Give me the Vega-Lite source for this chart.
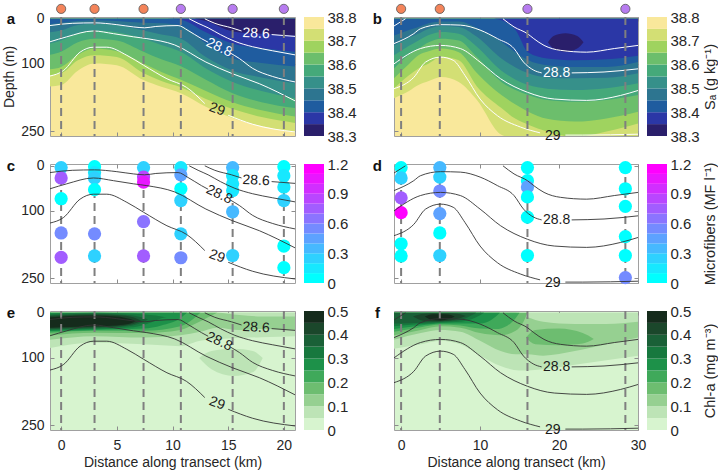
{
"$schema":"https://vega.github.io/schema/vega-lite/v6.json",
"background":"white",
"padding":{"left":2,"top":2,"right":0,"bottom":0},
"config":{"font":"Liberation Sans","view":{"stroke":"#a0a0a0"},
 "axis":{"labelFont":"Liberation Sans","titleFont":"Liberation Sans","labelColor":"#262626","titleColor":"#262626","tickColor":"#8c8c8c","titleFontWeight":"normal","labelFontSize":14,"titleFontSize":14,"grid":false,"domain":false,"labelFlush":false,"labelOverlap":false},
 "text":{"font":"Liberation Sans"}},
"datasets":{
"one":[{}],
"stn1":[{"x":0,"cluster":"A"},{"x":3,"cluster":"A"},{"x":7.4,"cluster":"A"},{"x":10.75,"cluster":"B"},{"x":15.4,"cluster":"B"},{"x":20,"cluster":"B"}],
"stn2":[{"x":0,"cluster":"A"},{"x":4.9,"cluster":"A"},{"x":16,"cluster":"B"},{"x":28.4,"cluster":"B"}],
"salt1":[
{"band":"38.70","x":-1,"depth":150},{"band":"38.70","x":0,"depth":147},{"band":"38.70","x":1.5,"depth":115},{"band":"38.70","x":3,"depth":99},{"band":"38.70","x":5,"depth":103},{"band":"38.70","x":7.4,"depth":136},{"band":"38.70","x":9,"depth":151},{"band":"38.70","x":10.75,"depth":165},{"band":"38.70","x":13,"depth":195},{"band":"38.70","x":15.4,"depth":220},{"band":"38.70","x":18,"depth":238},{"band":"38.70","x":21,"depth":252},
{"band":"38.65","x":-1,"depth":125},{"band":"38.65","x":0,"depth":121},{"band":"38.65","x":1.5,"depth":92},{"band":"38.65","x":3,"depth":81},{"band":"38.65","x":5,"depth":85},{"band":"38.65","x":7.4,"depth":121},{"band":"38.65","x":9,"depth":138},{"band":"38.65","x":10.75,"depth":152},{"band":"38.65","x":13,"depth":178},{"band":"38.65","x":15.4,"depth":200},{"band":"38.65","x":18,"depth":218},{"band":"38.65","x":21,"depth":231},
{"band":"38.60","x":-1,"depth":112},{"band":"38.60","x":0,"depth":107},{"band":"38.60","x":1.5,"depth":80},{"band":"38.60","x":3,"depth":66},{"band":"38.60","x":5,"depth":72},{"band":"38.60","x":7.4,"depth":99},{"band":"38.60","x":9,"depth":118},{"band":"38.60","x":10.75,"depth":135},{"band":"38.60","x":13,"depth":160},{"band":"38.60","x":15.4,"depth":185},{"band":"38.60","x":18,"depth":203},{"band":"38.60","x":21,"depth":217},
{"band":"38.55","x":-1,"depth":80},{"band":"38.55","x":0,"depth":73},{"band":"38.55","x":1.5,"depth":52},{"band":"38.55","x":3,"depth":44},{"band":"38.55","x":5,"depth":48},{"band":"38.55","x":7.4,"depth":73},{"band":"38.55","x":9,"depth":90},{"band":"38.55","x":10.75,"depth":105},{"band":"38.55","x":13,"depth":135},{"band":"38.55","x":15.4,"depth":165},{"band":"38.55","x":18,"depth":185},{"band":"38.55","x":21,"depth":198},
{"band":"38.50","x":-1,"depth":55},{"band":"38.50","x":0,"depth":48},{"band":"38.50","x":1.5,"depth":32},{"band":"38.50","x":3,"depth":26},{"band":"38.50","x":5,"depth":30},{"band":"38.50","x":7.4,"depth":44},{"band":"38.50","x":9,"depth":58},{"band":"38.50","x":10.75,"depth":73},{"band":"38.50","x":13,"depth":110},{"band":"38.50","x":15.4,"depth":140},{"band":"38.50","x":18,"depth":160},{"band":"38.50","x":21,"depth":176},
{"band":"38.45","x":-1,"depth":30},{"band":"38.45","x":0,"depth":26},{"band":"38.45","x":1.5,"depth":14},{"band":"38.45","x":3,"depth":11},{"band":"38.45","x":5,"depth":14},{"band":"38.45","x":7.4,"depth":26},{"band":"38.45","x":9,"depth":35},{"band":"38.45","x":10.75,"depth":44},{"band":"38.45","x":13,"depth":85},{"band":"38.45","x":15.4,"depth":115},{"band":"38.45","x":18,"depth":130},{"band":"38.45","x":21,"depth":143},
{"band":"38.40","x":-1,"depth":12},{"band":"38.40","x":0,"depth":9},{"band":"38.40","x":1.5,"depth":5},{"band":"38.40","x":3,"depth":4},{"band":"38.40","x":5,"depth":5},{"band":"38.40","x":7.4,"depth":9},{"band":"38.40","x":9,"depth":10},{"band":"38.40","x":10.75,"depth":15},{"band":"38.40","x":13,"depth":55},{"band":"38.40","x":15.4,"depth":88},{"band":"38.40","x":18,"depth":98},{"band":"38.40","x":21,"depth":106},
{"band":"38.35","x":9.5,"depth":0},{"band":"38.35","x":10.75,"depth":2},{"band":"38.35","x":13,"depth":30},{"band":"38.35","x":15.4,"depth":55},{"band":"38.35","x":18,"depth":65},{"band":"38.35","x":21,"depth":73},
{"band":"38.30","x":12,"depth":0},{"band":"38.30","x":13,"depth":5},{"band":"38.30","x":15.4,"depth":28},{"band":"38.30","x":18,"depth":33},{"band":"38.30","x":21,"depth":37}],
"salt2":[
{"band":"38.70","x":-0.9,"depth":176},{"band":"38.70","x":1,"depth":160},{"band":"38.70","x":2.2,"depth":147},{"band":"38.70","x":3.5,"depth":138},{"band":"38.70","x":5.1,"depth":129},{"band":"38.70","x":7.3,"depth":140},{"band":"38.70","x":9.6,"depth":180},{"band":"38.70","x":12.7,"depth":257},{"band":"38.70","x":14.5,"depth":265},{"band":"38.70","x":16.1,"depth":265},{"band":"38.70","x":18.5,"depth":265},{"band":"38.70","x":22,"depth":265},{"band":"38.70","x":26,"depth":265},{"band":"38.70","x":30,"depth":265},
{"band":"38.65","x":-0.9,"depth":154},{"band":"38.65","x":1,"depth":125},{"band":"38.65","x":2.2,"depth":110},{"band":"38.65","x":3.5,"depth":99},{"band":"38.65","x":5.1,"depth":84},{"band":"38.65","x":7.3,"depth":92},{"band":"38.65","x":9.6,"depth":150},{"band":"38.65","x":12.7,"depth":198},{"band":"38.65","x":14.5,"depth":222},{"band":"38.65","x":16.1,"depth":235},{"band":"38.65","x":18.5,"depth":250},{"band":"38.65","x":22,"depth":262},{"band":"38.65","x":26,"depth":250},{"band":"38.65","x":30,"depth":232},
{"band":"38.60","x":-0.9,"depth":132},{"band":"38.60","x":1,"depth":100},{"band":"38.60","x":2.2,"depth":81},{"band":"38.60","x":3.5,"depth":72},{"band":"38.60","x":5.1,"depth":66},{"band":"38.60","x":7.3,"depth":74},{"band":"38.60","x":9.6,"depth":120},{"band":"38.60","x":12.7,"depth":169},{"band":"38.60","x":14.5,"depth":190},{"band":"38.60","x":16.1,"depth":206},{"band":"38.60","x":18.5,"depth":222},{"band":"38.60","x":22,"depth":228},{"band":"38.60","x":26,"depth":221},{"band":"38.60","x":30,"depth":206},
{"band":"38.55","x":-0.9,"depth":110},{"band":"38.55","x":1,"depth":80},{"band":"38.55","x":2.2,"depth":66},{"band":"38.55","x":3.5,"depth":52},{"band":"38.55","x":5.1,"depth":44},{"band":"38.55","x":7.3,"depth":48},{"band":"38.55","x":9.6,"depth":85},{"band":"38.55","x":12.7,"depth":140},{"band":"38.55","x":14.5,"depth":158},{"band":"38.55","x":16.1,"depth":169},{"band":"38.55","x":18.5,"depth":180},{"band":"38.55","x":22,"depth":184},{"band":"38.55","x":26,"depth":180},{"band":"38.55","x":30,"depth":169},
{"band":"38.50","x":-0.9,"depth":81},{"band":"38.50","x":1,"depth":60},{"band":"38.50","x":2.2,"depth":48},{"band":"38.50","x":3.5,"depth":36},{"band":"38.50","x":5.1,"depth":29},{"band":"38.50","x":7.3,"depth":33},{"band":"38.50","x":9.6,"depth":62},{"band":"38.50","x":12.7,"depth":115},{"band":"38.50","x":14.5,"depth":135},{"band":"38.50","x":16.1,"depth":147},{"band":"38.50","x":18.5,"depth":155},{"band":"38.50","x":22,"depth":158},{"band":"38.50","x":26,"depth":154},{"band":"38.50","x":30,"depth":143},
{"band":"38.45","x":-0.9,"depth":59},{"band":"38.45","x":1,"depth":42},{"band":"38.45","x":2.2,"depth":33},{"band":"38.45","x":3.5,"depth":22},{"band":"38.45","x":5.1,"depth":16},{"band":"38.45","x":7.3,"depth":18},{"band":"38.45","x":9.6,"depth":40},{"band":"38.45","x":12.7,"depth":88},{"band":"38.45","x":14.5,"depth":108},{"band":"38.45","x":16.1,"depth":121},{"band":"38.45","x":18.5,"depth":130},{"band":"38.45","x":22,"depth":132},{"band":"38.45","x":26,"depth":131},{"band":"38.45","x":30,"depth":121},
{"band":"38.40","x":-0.9,"depth":37},{"band":"38.40","x":1,"depth":25},{"band":"38.40","x":2.2,"depth":18},{"band":"38.40","x":3.5,"depth":10},{"band":"38.40","x":5.1,"depth":6},{"band":"38.40","x":7.3,"depth":6},{"band":"38.40","x":9.6,"depth":20},{"band":"38.40","x":12.7,"depth":51},{"band":"38.40","x":14.5,"depth":75},{"band":"38.40","x":16.1,"depth":92},{"band":"38.40","x":18.5,"depth":103},{"band":"38.40","x":22,"depth":107},{"band":"38.40","x":26,"depth":107},{"band":"38.40","x":30,"depth":96},
{"band":"38.35","x":11.8,"depth":0},{"band":"38.35","x":12.7,"depth":3},{"band":"38.35","x":14.5,"depth":25},{"band":"38.35","x":16.1,"depth":75},{"band":"38.35","x":18.5,"depth":88},{"band":"38.35","x":22,"depth":92},{"band":"38.35","x":26,"depth":90},{"band":"38.35","x":30,"depth":82}],
"blob2":[{"band":"38.30","x":18.6,"top":52,"depth":52},{"band":"38.30","x":19.3,"top":38,"depth":66},{"band":"38.30","x":20.8,"top":32,"depth":73},{"band":"38.30","x":22.3,"top":38,"depth":66},{"band":"38.30","x":23.1,"top":52,"depth":52}],
"iso1":[
{"line":"28.6a","x":12.9,"depth":0},{"line":"28.6a","x":13.8,"depth":10},{"line":"28.6a","x":15.3,"depth":20},{"line":"28.6a","x":16.2,"depth":27},
{"line":"28.6b","x":18.9,"depth":35},{"line":"28.6b","x":21,"depth":39},
{"line":"28.7","x":11.5,"depth":0},{"line":"28.7","x":12.3,"depth":10},{"line":"28.7","x":13.2,"depth":20},{"line":"28.7","x":14.3,"depth":35},{"line":"28.7","x":15.6,"depth":50},{"line":"28.7","x":17.2,"depth":62},{"line":"28.7","x":19,"depth":71},{"line":"28.7","x":21,"depth":80},
{"line":"28.8a","x":-1,"depth":15},{"line":"28.8a","x":1,"depth":10},{"line":"28.8a","x":3,"depth":9},{"line":"28.8a","x":5,"depth":13},{"line":"28.8a","x":6.5,"depth":18},{"line":"28.8a","x":7.5,"depth":20},{"line":"28.8a","x":8.5,"depth":17},{"line":"28.8a","x":10.5,"depth":15},{"line":"28.8a","x":11.4,"depth":26},{"line":"28.8a","x":12.6,"depth":44},{"line":"28.8a","x":13.2,"depth":52},
{"line":"28.8b","x":15.2,"depth":76},{"line":"28.8b","x":16,"depth":88},{"line":"28.8b","x":17.2,"depth":110},{"line":"28.8b","x":19,"depth":128},{"line":"28.8b","x":21,"depth":140},
{"line":"28.9","x":-1,"depth":51},{"line":"28.9","x":0.5,"depth":40},{"line":"28.9","x":2.9,"depth":27},{"line":"28.9","x":4.7,"depth":33},{"line":"28.9","x":6.5,"depth":40},{"line":"28.9","x":7.7,"depth":44},{"line":"28.9","x":10.2,"depth":58},{"line":"28.9","x":13,"depth":96},{"line":"28.9","x":15.4,"depth":122},{"line":"28.9","x":17.8,"depth":144},{"line":"28.9","x":21,"depth":182},
{"line":"29a","x":-1,"depth":127},{"line":"29a","x":0.2,"depth":115},{"line":"29a","x":1.7,"depth":74},{"line":"29a","x":2.9,"depth":63},{"line":"29a","x":4.1,"depth":63},{"line":"29a","x":5.9,"depth":81},{"line":"29a","x":7.4,"depth":103},{"line":"29a","x":9.5,"depth":133},{"line":"29a","x":11.25,"depth":152},{"line":"29a","x":12.9,"depth":188},
{"line":"29b","x":15,"depth":214},{"line":"29b","x":17.2,"depth":234},{"line":"29b","x":21,"depth":251}],
"iso2":[
{"line":"28.7a","x":-0.9,"depth":16},{"line":"28.7a","x":0.55,"depth":0},
{"line":"28.7b","x":12.9,"depth":0},{"line":"28.7b","x":14.3,"depth":18},{"line":"28.7b","x":16,"depth":33},{"line":"28.7b","x":16.8,"depth":44},{"line":"28.7b","x":18.1,"depth":59},{"line":"28.7b","x":20.2,"depth":70},{"line":"28.7b","x":23.5,"depth":74},{"line":"28.7b","x":27,"depth":66},{"line":"28.7b","x":30,"depth":59},
{"line":"28.8a","x":-0.9,"depth":55},{"line":"28.8a","x":1.6,"depth":33},{"line":"28.8a","x":2.45,"depth":22},{"line":"28.8a","x":5,"depth":13},{"line":"28.8a","x":7.5,"depth":14},{"line":"28.8a","x":10,"depth":25},{"line":"28.8a","x":12.2,"depth":44},{"line":"28.8a","x":14.3,"depth":66},{"line":"28.8a","x":15.5,"depth":96},{"line":"28.8a","x":16.8,"depth":114},{"line":"28.8a","x":17.8,"depth":120},
{"line":"28.8b","x":21.6,"depth":120},{"line":"28.8b","x":25.7,"depth":118},{"line":"28.8b","x":30,"depth":111},
{"line":"28.9","x":-0.9,"depth":100},{"line":"28.9","x":2.45,"depth":66},{"line":"28.9","x":5,"depth":59},{"line":"28.9","x":7.5,"depth":66},{"line":"28.9","x":10,"depth":96},{"line":"28.9","x":12.6,"depth":133},{"line":"28.9","x":16,"depth":163},{"line":"28.9","x":19.4,"depth":178},{"line":"28.9","x":23.5,"depth":181},{"line":"28.9","x":27.8,"depth":170},{"line":"28.9","x":30,"depth":159},
{"line":"29a","x":-0.9,"depth":155},{"line":"29a","x":1.6,"depth":130},{"line":"29a","x":3.1,"depth":96},{"line":"29a","x":5,"depth":85},{"line":"29a","x":6.6,"depth":92},{"line":"29a","x":8.1,"depth":126},{"line":"29a","x":10,"depth":178},{"line":"29a","x":12.2,"depth":215},{"line":"29a","x":15.1,"depth":240},{"line":"29a","x":17.6,"depth":253},
{"line":"29b","x":20.8,"depth":258},{"line":"29b","x":23,"depth":258},{"line":"29b","x":30,"depth":256}],
"lab1":[{"x":17.5,"depth":33,"label":"28.6"},{"x":14.2,"depth":64,"label":"28.8"},{"x":14,"depth":201,"label":"29"}],
"lab2":[{"x":19.7,"depth":121,"label":"28.8"},{"x":19.2,"depth":259,"label":"29"}],
"mf1":[
{"x":0,"depth":4,"mf":0.25},{"x":0,"depth":27,"mf":0.75},{"x":0,"depth":73,"mf":0.05},{"x":0,"depth":149,"mf":0.55},{"x":0,"depth":203,"mf":0.75},
{"x":3,"depth":2,"mf":0.05},{"x":3,"depth":15,"mf":0.15},{"x":3,"depth":27,"mf":0.25},{"x":3,"depth":53,"mf":0.05},{"x":3,"depth":151,"mf":0.55},{"x":3,"depth":200,"mf":0.25},
{"x":7.4,"depth":4,"mf":0.25},{"x":7.4,"depth":25,"mf":0.85},{"x":7.4,"depth":36,"mf":1.05},{"x":7.4,"depth":124,"mf":0.65},{"x":7.4,"depth":200,"mf":0.75},
{"x":10.75,"depth":4,"mf":0.15},{"x":10.75,"depth":20,"mf":0.45},{"x":10.75,"depth":51,"mf":0.05},{"x":10.75,"depth":77,"mf":0.25},{"x":10.75,"depth":151,"mf":0.25},{"x":10.75,"depth":204,"mf":0.55},
{"x":15.4,"depth":4,"mf":0.35},{"x":15.4,"depth":22,"mf":0.15},{"x":15.4,"depth":40,"mf":0.15},{"x":15.4,"depth":55,"mf":0.15},{"x":15.4,"depth":102,"mf":0.35},{"x":15.4,"depth":199,"mf":0.25},
{"x":20,"depth":2,"mf":0.05},{"x":20,"depth":22,"mf":0.15},{"x":20,"depth":47,"mf":0.15},{"x":20,"depth":77,"mf":0.25},{"x":20,"depth":178,"mf":0.05},{"x":20,"depth":226,"mf":0.05}],
"mf2":[
{"x":0,"depth":4,"mf":0.05},{"x":0,"depth":27,"mf":0.25},{"x":0,"depth":71,"mf":0.75},{"x":0,"depth":104,"mf":1.15},{"x":0,"depth":173,"mf":0.05},{"x":0,"depth":200,"mf":0.05},
{"x":4.9,"depth":4,"mf":0.35},{"x":4.9,"depth":25,"mf":0.25},{"x":4.9,"depth":56,"mf":0.55},{"x":4.9,"depth":106,"mf":0.45},{"x":4.9,"depth":149,"mf":0.05},{"x":4.9,"depth":199,"mf":0.25},
{"x":16,"depth":4,"mf":0.05},{"x":16,"depth":33,"mf":0.05},{"x":16,"depth":47,"mf":0.45},{"x":16,"depth":69,"mf":0.05},{"x":16,"depth":114,"mf":0.05},{"x":16,"depth":199,"mf":0.05},
{"x":28.4,"depth":4,"mf":0.05},{"x":28.4,"depth":51,"mf":0.05},{"x":28.4,"depth":90,"mf":0.05},{"x":28.4,"depth":157,"mf":0.05},{"x":28.4,"depth":199,"mf":0.05},{"x":28.4,"depth":248,"mf":0.55}],
"chl1":[
{"patch":"p1","band":"0.05","x":-1,"top":0,"depth":78},{"patch":"p1","band":"0.05","x":3,"top":0,"depth":66},{"patch":"p1","band":"0.05","x":7.4,"top":0,"depth":70},{"patch":"p1","band":"0.05","x":10.7,"top":0,"depth":74},{"patch":"p1","band":"0.05","x":12.5,"top":0,"depth":62},{"patch":"p1","band":"0.05","x":15,"top":0,"depth":57},{"patch":"p1","band":"0.05","x":18,"top":0,"depth":54},{"patch":"p1","band":"0.05","x":21,"top":0,"depth":52},
{"patch":"p2","band":"0.05","x":12.4,"top":100,"depth":100},{"patch":"p2","band":"0.05","x":13.5,"top":85,"depth":125},{"patch":"p2","band":"0.05","x":15.5,"top":80,"depth":140},{"patch":"p2","band":"0.05","x":17.2,"top":85,"depth":132},{"patch":"p2","band":"0.05","x":18.1,"top":100,"depth":100},
{"patch":"p3","band":"0.10","x":-1,"top":0,"depth":60},{"patch":"p3","band":"0.10","x":3,"top":0,"depth":52},{"patch":"p3","band":"0.10","x":7.4,"top":0,"depth":55},{"patch":"p3","band":"0.10","x":10.7,"top":0,"depth":50},{"patch":"p3","band":"0.10","x":12.5,"top":0,"depth":42},{"patch":"p3","band":"0.10","x":14,"top":0,"depth":33},{"patch":"p3","band":"0.10","x":16,"top":5,"depth":38},{"patch":"p3","band":"0.10","x":18,"top":8,"depth":36},{"patch":"p3","band":"0.10","x":21,"top":8,"depth":38},
{"patch":"p4","band":"0.15","x":-1,"top":0,"depth":50},{"patch":"p4","band":"0.15","x":3,"top":0,"depth":44},{"patch":"p4","band":"0.15","x":7.4,"top":0,"depth":45},{"patch":"p4","band":"0.15","x":10.7,"top":0,"depth":38},{"patch":"p4","band":"0.15","x":12,"top":0,"depth":25},{"patch":"p4","band":"0.15","x":13.2,"top":0,"depth":10},{"patch":"p4","band":"0.15","x":14,"top":0,"depth":0},
{"patch":"p5","band":"0.20","x":-1,"top":0,"depth":44},{"patch":"p5","band":"0.20","x":3,"top":0,"depth":40},{"patch":"p5","band":"0.20","x":7.4,"top":0,"depth":40},{"patch":"p5","band":"0.20","x":10.7,"top":0,"depth":30},{"patch":"p5","band":"0.20","x":11.8,"top":0,"depth":15},{"patch":"p5","band":"0.20","x":12.5,"top":0,"depth":0},
{"patch":"p6","band":"0.25","x":-1,"top":0,"depth":41},{"patch":"p6","band":"0.25","x":3,"top":0,"depth":38},{"patch":"p6","band":"0.25","x":7.4,"top":0,"depth":35},{"patch":"p6","band":"0.25","x":9,"top":0,"depth":28},{"patch":"p6","band":"0.25","x":10.7,"top":0,"depth":12},{"patch":"p6","band":"0.25","x":11.3,"top":0,"depth":0},
{"patch":"p7","band":"0.30","x":-1,"top":2,"depth":39},{"patch":"p7","band":"0.30","x":3,"top":0,"depth":36},{"patch":"p7","band":"0.30","x":6.5,"top":2,"depth":32},{"patch":"p7","band":"0.30","x":8,"top":5,"depth":22},{"patch":"p7","band":"0.30","x":9,"top":8,"depth":12},{"patch":"p7","band":"0.30","x":9.5,"top":10,"depth":10},
{"patch":"p8","band":"0.35","x":-1,"top":5,"depth":37},{"patch":"p8","band":"0.35","x":0,"top":4,"depth":36},{"patch":"p8","band":"0.35","x":3,"top":2,"depth":34},{"patch":"p8","band":"0.35","x":6,"top":5,"depth":30},{"patch":"p8","band":"0.35","x":7.2,"top":10,"depth":22},{"patch":"p8","band":"0.35","x":7.8,"top":15,"depth":15},
{"patch":"p9","band":"0.40","x":-1,"top":7,"depth":35},{"patch":"p9","band":"0.40","x":0,"top":6,"depth":34},{"patch":"p9","band":"0.40","x":3,"top":4,"depth":32},{"patch":"p9","band":"0.40","x":5.5,"top":6,"depth":29},{"patch":"p9","band":"0.40","x":6.8,"top":13,"depth":22},{"patch":"p9","band":"0.40","x":7.2,"top":18,"depth":18},
{"patch":"p10","band":"0.45","x":-1,"top":10,"depth":33},{"patch":"p10","band":"0.45","x":0,"top":8,"depth":32},{"patch":"p10","band":"0.45","x":3,"top":6,"depth":30},{"patch":"p10","band":"0.45","x":5,"top":8,"depth":28},{"patch":"p10","band":"0.45","x":6.2,"top":14,"depth":24},{"patch":"p10","band":"0.45","x":6.7,"top":19,"depth":19}],
"chl2":[
{"patch":"q1","band":"0.05","x":-0.9,"top":0,"depth":80},{"patch":"q1","band":"0.05","x":2.5,"top":0,"depth":70},{"patch":"q1","band":"0.05","x":5,"top":0,"depth":62},{"patch":"q1","band":"0.05","x":7.5,"top":0,"depth":70},{"patch":"q1","band":"0.05","x":10,"top":0,"depth":95},{"patch":"q1","band":"0.05","x":12.6,"top":0,"depth":118},{"patch":"q1","band":"0.05","x":15,"top":0,"depth":128},{"patch":"q1","band":"0.05","x":18,"top":0,"depth":125},{"patch":"q1","band":"0.05","x":22,"top":0,"depth":115},{"patch":"q1","band":"0.05","x":26,"top":0,"depth":105},{"patch":"q1","band":"0.05","x":30,"top":0,"depth":95},
{"patch":"q2","band":"0.10","x":-0.9,"top":0,"depth":60},{"patch":"q2","band":"0.10","x":2.5,"top":0,"depth":45},{"patch":"q2","band":"0.10","x":5,"top":0,"depth":38},{"patch":"q2","band":"0.10","x":7.5,"top":0,"depth":42},{"patch":"q2","band":"0.10","x":10,"top":0,"depth":62},{"patch":"q2","band":"0.10","x":12.6,"top":0,"depth":85},{"patch":"q2","band":"0.10","x":14.5,"top":0,"depth":92},{"patch":"q2","band":"0.10","x":16,"top":10,"depth":92},{"patch":"q2","band":"0.10","x":18,"top":20,"depth":95},{"patch":"q2","band":"0.10","x":22,"top":25,"depth":85},{"patch":"q2","band":"0.10","x":26,"top":25,"depth":70},{"patch":"q2","band":"0.10","x":30,"top":20,"depth":55},
{"patch":"q3","band":"0.15","x":-0.9,"top":0,"depth":50},{"patch":"q3","band":"0.15","x":2.5,"top":0,"depth":38},{"patch":"q3","band":"0.15","x":5,"top":0,"depth":30},{"patch":"q3","band":"0.15","x":7.5,"top":0,"depth":33},{"patch":"q3","band":"0.15","x":10,"top":0,"depth":45},{"patch":"q3","band":"0.15","x":12.6,"top":0,"depth":50},{"patch":"q3","band":"0.15","x":14.5,"top":0,"depth":40},{"patch":"q3","band":"0.15","x":15.5,"top":0,"depth":20},{"patch":"q3","band":"0.15","x":16,"top":0,"depth":0},
{"patch":"q4","band":"0.15","x":15.8,"top":55,"depth":55},{"patch":"q4","band":"0.15","x":17,"top":38,"depth":70},{"patch":"q4","band":"0.15","x":20,"top":35,"depth":72},{"patch":"q4","band":"0.15","x":23,"top":45,"depth":68},{"patch":"q4","band":"0.15","x":24.4,"top":58,"depth":58},
{"patch":"q5","band":"0.20","x":-0.9,"top":0,"depth":42},{"patch":"q5","band":"0.20","x":2.5,"top":0,"depth":32},{"patch":"q5","band":"0.20","x":5,"top":0,"depth":26},{"patch":"q5","band":"0.20","x":7.5,"top":0,"depth":28},{"patch":"q5","band":"0.20","x":10,"top":0,"depth":35},{"patch":"q5","band":"0.20","x":12,"top":0,"depth":36},{"patch":"q5","band":"0.20","x":13.5,"top":0,"depth":28},{"patch":"q5","band":"0.20","x":14.5,"top":0,"depth":12},{"patch":"q5","band":"0.20","x":15,"top":0,"depth":0},
{"patch":"q6","band":"0.25","x":-0.9,"top":0,"depth":36},{"patch":"q6","band":"0.25","x":2.5,"top":0,"depth":28},{"patch":"q6","band":"0.25","x":5,"top":0,"depth":24},{"patch":"q6","band":"0.25","x":7.5,"top":0,"depth":24},{"patch":"q6","band":"0.25","x":10,"top":0,"depth":24},{"patch":"q6","band":"0.25","x":11.5,"top":0,"depth":15},{"patch":"q6","band":"0.25","x":12.5,"top":0,"depth":0},
{"patch":"q7","band":"0.30","x":-0.9,"top":0,"depth":30},{"patch":"q7","band":"0.30","x":2.5,"top":0,"depth":25},{"patch":"q7","band":"0.30","x":5,"top":0,"depth":22},{"patch":"q7","band":"0.30","x":7.5,"top":0,"depth":20},{"patch":"q7","band":"0.30","x":9.5,"top":0,"depth":10},{"patch":"q7","band":"0.30","x":10.5,"top":0,"depth":0},
{"patch":"q8","band":"0.35","x":-0.9,"top":0,"depth":24},{"patch":"q8","band":"0.35","x":2.5,"top":0,"depth":22},{"patch":"q8","band":"0.35","x":5,"top":0,"depth":20},{"patch":"q8","band":"0.35","x":7.5,"top":0,"depth":16},{"patch":"q8","band":"0.35","x":9,"top":0,"depth":5},{"patch":"q8","band":"0.35","x":9.5,"top":0,"depth":0},
{"patch":"q9","band":"0.40","x":1.5,"top":8,"depth":8},{"patch":"q9","band":"0.40","x":3,"top":2,"depth":18},{"patch":"q9","band":"0.40","x":5,"top":1,"depth":19},{"patch":"q9","band":"0.40","x":7,"top":2,"depth":14},{"patch":"q9","band":"0.40","x":8.2,"top":7,"depth":7},
{"patch":"q10","band":"0.45","x":3,"top":8,"depth":8},{"patch":"q10","band":"0.45","x":4,"top":3,"depth":16},{"patch":"q10","band":"0.45","x":5,"top":3,"depth":17},{"patch":"q10","band":"0.45","x":6,"top":4,"depth":14},{"patch":"q10","band":"0.45","x":6.8,"top":8,"depth":8}],
"cbs":[{"band":"38.30","lo":38.3,"hi":38.35},{"band":"38.35","lo":38.35,"hi":38.4},{"band":"38.40","lo":38.4,"hi":38.45},{"band":"38.45","lo":38.45,"hi":38.5},{"band":"38.50","lo":38.5,"hi":38.55},{"band":"38.55","lo":38.55,"hi":38.6},{"band":"38.60","lo":38.6,"hi":38.65},{"band":"38.65","lo":38.65,"hi":38.7},{"band":"38.70","lo":38.7,"hi":38.75},{"band":"38.75","lo":38.75,"hi":38.8}],
"cbm":[{"lo":0,"hi":0.1,"mf":0.05},{"lo":0.1,"hi":0.2,"mf":0.15},{"lo":0.2,"hi":0.3,"mf":0.25},{"lo":0.3,"hi":0.4,"mf":0.35},{"lo":0.4,"hi":0.5,"mf":0.45},{"lo":0.5,"hi":0.6,"mf":0.55},{"lo":0.6,"hi":0.7,"mf":0.65},{"lo":0.7,"hi":0.8,"mf":0.75},{"lo":0.8,"hi":0.9,"mf":0.85},{"lo":0.9,"hi":1.0,"mf":0.95},{"lo":1.0,"hi":1.1,"mf":1.05},{"lo":1.1,"hi":1.2,"mf":1.15}],
"cbc":[{"band":"0.00","lo":0,"hi":0.05},{"band":"0.05","lo":0.05,"hi":0.1},{"band":"0.10","lo":0.1,"hi":0.15},{"band":"0.15","lo":0.15,"hi":0.2},{"band":"0.20","lo":0.2,"hi":0.25},{"band":"0.25","lo":0.25,"hi":0.3},{"band":"0.30","lo":0.3,"hi":0.35},{"band":"0.35","lo":0.35,"hi":0.4},{"band":"0.40","lo":0.4,"hi":0.45},{"band":"0.45","lo":0.45,"hi":0.5}]
},
"columns":5,"spacing":{"row":28,"column":9},"bounds":"flush","align":"each",
"concat":[
  {"width":245,"height":119,"view":{"fill":"#f9e89b","stroke":"#a0a0a0"},
   "layer":[
    {"data":{"name":"salt1"},"mark":{"type":"area","clip":true,"interpolate":"monotone"},
     "encoding":{"x":{"field":"x","type":"quantitative","scale":{"domain":[-1,21],"nice":false,"zero":false},"axis":{"orient":"bottom","values":[0,5,10,15,20],"labels":false,"tickSize":-4,"title":null}},
      "y":{"field":"depth","type":"quantitative","stack":null,"scale":{"domain":[-4,260],"reverse":true,"nice":false,"zero":false},"axis":{"orient":"left","values":[0,100,250],"tickSize":-4,"labelPadding":10,"title":"Depth (m)","titlePadding":4}},
      "y2":{"datum":0},
      "color":{"field":"band","type":"nominal","scale":{"domain":["38.30","38.35","38.40","38.45","38.50","38.55","38.60","38.65","38.70","38.75"],"range":["#2a1f6b","#2b37a6","#1f5c9f","#2d7590","#36908a","#45a97a","#6cbe6c","#9fd35f","#d3df74","#f9e89b"]},"legend":null}}},
    {"data":{"name":"iso1"},"mark":{"type":"line","clip":true,"interpolate":"monotone","color":"white","strokeWidth":1},
     "encoding":{"x":{"field":"x","type":"quantitative","scale":{"domain":[-1,21],"nice":false,"zero":false},"axis":{"orient":"top","values":[0,5,10,15,20],"labels":false,"tickSize":-4,"title":null}},
      "y":{"field":"depth","type":"quantitative","scale":{"domain":[-4,260],"reverse":true,"nice":false,"zero":false},"axis":{"orient":"right","values":[0,100,250],"labels":false,"tickSize":-4,"title":null}},
      "detail":{"field":"line"}}},
    {"data":{"name":"lab1"},"transform":[{"filter":"datum.label == '28.6'"}],"mark":{"type":"text","fontSize":14,"angle":3,"color":"white"},
     "encoding":{"x":{"field":"x","type":"quantitative","scale":{"domain":[-1,21],"nice":false,"zero":false},"axis":null},"y":{"field":"depth","type":"quantitative","scale":{"domain":[-4,260],"reverse":true,"nice":false,"zero":false},"axis":null},"text":{"field":"label"}}},
    {"data":{"name":"lab1"},"transform":[{"filter":"datum.label == '28.8'"}],"mark":{"type":"text","fontSize":14,"angle":25,"color":"white"},
     "encoding":{"x":{"field":"x","type":"quantitative","scale":{"domain":[-1,21],"nice":false,"zero":false},"axis":null},"y":{"field":"depth","type":"quantitative","scale":{"domain":[-4,260],"reverse":true,"nice":false,"zero":false},"axis":null},"text":{"field":"label"}}},
    {"data":{"name":"lab1"},"transform":[{"filter":"datum.label == '29'"}],"mark":{"type":"text","fontSize":14,"angle":20,"color":"#1a1a1a"},
     "encoding":{"x":{"field":"x","type":"quantitative","scale":{"domain":[-1,21],"nice":false,"zero":false},"axis":null},"y":{"field":"depth","type":"quantitative","scale":{"domain":[-4,260],"reverse":true,"nice":false,"zero":false},"axis":null},"text":{"field":"label"}}},
    {"data":{"name":"stn1"},"mark":{"type":"rule","color":"#7f7f7f","strokeWidth":2,"strokeDash":[8,5]},
     "encoding":{"x":{"field":"x","type":"quantitative","scale":{"domain":[-1,21],"nice":false,"zero":false},"axis":null}}},
    {"data":{"name":"stn1"},"mark":{"type":"point","shape":"circle","filled":true,"size":85,"stroke":"#555555","strokeWidth":0.8,"opacity":1,"clip":false},
     "encoding":{"x":{"field":"x","type":"quantitative","scale":{"domain":[-1,21],"nice":false,"zero":false},"axis":null},"y":{"datum":-22,"type":"quantitative","scale":{"domain":[-4,260],"reverse":true,"nice":false,"zero":false},"axis":null},
      "fill":{"field":"cluster","type":"nominal","scale":{"domain":["A","B"],"range":["#f4845a","#b77cf0"]},"legend":null}}},
    {"data":{"name":"one"},"mark":{"type":"text","text":"a","fontSize":15,"fontWeight":"bold","color":"#111111","clip":false},
     "encoding":{"x":{"datum":-4.5,"type":"quantitative","scale":{"domain":[-1,21],"nice":false,"zero":false},"axis":null},"y":{"datum":0,"type":"quantitative","scale":{"domain":[-4,260],"reverse":true,"nice":false,"zero":false},"axis":null}}}
   ],
   "resolve":{"axis":{"x":"independent","y":"independent"},"scale":{"fill":"independent"}}},
  {"width":20,"height":119,"view":{"stroke":null},"data":{"name":"cbs"},"mark":"rect",
   "encoding":{"y":{"field":"lo","type":"quantitative","scale":{"domain":[38.3,38.8],"nice":false,"zero":false},"axis":{"orient":"right","values":[38.3,38.4,38.5,38.6,38.7,38.8],"format":".1f","ticks":false,"labelPadding":3,"labelFontSize":15,"title":null}},
    "y2":{"field":"hi"},
    "color":{"field":"band","type":"nominal","scale":{"domain":["38.30","38.35","38.40","38.45","38.50","38.55","38.60","38.65","38.70","38.75"],"range":["#2a1f6b","#2b37a6","#1f5c9f","#2d7590","#36908a","#45a97a","#6cbe6c","#9fd35f","#d3df74","#f9e89b"]},"legend":null}}},
  {"width":52,"height":119,"view":{"stroke":null},"data":{"values":[]},"mark":"point"},
  {"width":244,"height":119,"view":{"fill":"#f9e89b","stroke":"#a0a0a0"},
   "layer":[
    {"data":{"name":"salt2"},"mark":{"type":"area","clip":true,"interpolate":"monotone"},
     "encoding":{"x":{"field":"x","type":"quantitative","scale":{"domain":[-0.9,30],"nice":false,"zero":false},"axis":{"orient":"bottom","values":[0,10,20,30],"labels":false,"tickSize":-4,"title":null}},
      "y":{"field":"depth","type":"quantitative","stack":null,"scale":{"domain":[-4,260],"reverse":true,"nice":false,"zero":false},"axis":{"orient":"left","values":[0,100,250],"labels":false,"tickSize":-4,"title":null}},
      "y2":{"datum":0},
      "color":{"field":"band","type":"nominal","scale":{"domain":["38.30","38.35","38.40","38.45","38.50","38.55","38.60","38.65","38.70","38.75"],"range":["#2a1f6b","#2b37a6","#1f5c9f","#2d7590","#36908a","#45a97a","#6cbe6c","#9fd35f","#d3df74","#f9e89b"]},"legend":null}}},
    {"data":{"name":"blob2"},"mark":{"type":"area","clip":true,"interpolate":"monotone"},
     "encoding":{"x":{"field":"x","type":"quantitative","scale":{"domain":[-0.9,30],"nice":false,"zero":false},"axis":null},
      "y":{"field":"depth","type":"quantitative","stack":null,"scale":{"domain":[-4,260],"reverse":true,"nice":false,"zero":false},"axis":null},
      "y2":{"field":"top"},
      "color":{"field":"band","type":"nominal","scale":{"domain":["38.30","38.35","38.40","38.45","38.50","38.55","38.60","38.65","38.70","38.75"],"range":["#2a1f6b","#2b37a6","#1f5c9f","#2d7590","#36908a","#45a97a","#6cbe6c","#9fd35f","#d3df74","#f9e89b"]},"legend":null}}},
    {"data":{"name":"iso2"},"mark":{"type":"line","clip":true,"interpolate":"monotone","color":"white","strokeWidth":1},
     "encoding":{"x":{"field":"x","type":"quantitative","scale":{"domain":[-0.9,30],"nice":false,"zero":false},"axis":{"orient":"top","values":[0,10,20,30],"labels":false,"tickSize":-4,"title":null}},
      "y":{"field":"depth","type":"quantitative","scale":{"domain":[-4,260],"reverse":true,"nice":false,"zero":false},"axis":{"orient":"right","values":[0,100,250],"labels":false,"tickSize":-4,"title":null}},
      "detail":{"field":"line"}}},
    {"data":{"name":"lab2"},"transform":[{"filter":"datum.label == '28.8'"}],"mark":{"type":"text","fontSize":14,"color":"white"},
     "encoding":{"x":{"field":"x","type":"quantitative","scale":{"domain":[-0.9,30],"nice":false,"zero":false},"axis":null},"y":{"field":"depth","type":"quantitative","scale":{"domain":[-4,260],"reverse":true,"nice":false,"zero":false},"axis":null},"text":{"field":"label"}}},
    {"data":{"name":"lab2"},"transform":[{"filter":"datum.label == '29'"}],"mark":{"type":"text","fontSize":14,"color":"#1a1a1a"},
     "encoding":{"x":{"field":"x","type":"quantitative","scale":{"domain":[-0.9,30],"nice":false,"zero":false},"axis":null},"y":{"field":"depth","type":"quantitative","scale":{"domain":[-4,260],"reverse":true,"nice":false,"zero":false},"axis":null},"text":{"field":"label"}}},
    {"data":{"name":"stn2"},"mark":{"type":"rule","color":"#7f7f7f","strokeWidth":2,"strokeDash":[8,5]},
     "encoding":{"x":{"field":"x","type":"quantitative","scale":{"domain":[-0.9,30],"nice":false,"zero":false},"axis":null}}},
    {"data":{"name":"stn2"},"mark":{"type":"point","shape":"circle","filled":true,"size":85,"stroke":"#555555","strokeWidth":0.8,"opacity":1,"clip":false},
     "encoding":{"x":{"field":"x","type":"quantitative","scale":{"domain":[-0.9,30],"nice":false,"zero":false},"axis":null},"y":{"datum":-22,"type":"quantitative","scale":{"domain":[-4,260],"reverse":true,"nice":false,"zero":false},"axis":null},
      "fill":{"field":"cluster","type":"nominal","scale":{"domain":["A","B"],"range":["#f4845a","#b77cf0"]},"legend":null}}},
    {"data":{"name":"one"},"mark":{"type":"text","text":"b","fontSize":15,"fontWeight":"bold","color":"#111111","clip":false},
     "encoding":{"x":{"datum":-3,"type":"quantitative","scale":{"domain":[-0.9,30],"nice":false,"zero":false},"axis":null},"y":{"datum":0,"type":"quantitative","scale":{"domain":[-4,260],"reverse":true,"nice":false,"zero":false},"axis":null}}}
   ],
   "resolve":{"axis":{"x":"independent","y":"independent"},"scale":{"fill":"independent"}}},
  {"width":20,"height":119,"view":{"stroke":null},"data":{"name":"cbs"},"mark":"rect",
   "encoding":{"y":{"field":"lo","type":"quantitative","scale":{"domain":[38.3,38.8],"nice":false,"zero":false},"axis":{"orient":"right","values":[38.3,38.4,38.5,38.6,38.7,38.8],"format":".1f","ticks":false,"labelPadding":3,"labelFontSize":15,"title":"S\u2090 (g kg\u207b\u00b9)","titleAngle":270,"titleBaseline":"top","titleFontSize":14.5,"titlePadding":4}},
    "y2":{"field":"hi"},
    "color":{"field":"band","type":"nominal","scale":{"domain":["38.30","38.35","38.40","38.45","38.50","38.55","38.60","38.65","38.70","38.75"],"range":["#2a1f6b","#2b37a6","#1f5c9f","#2d7590","#36908a","#45a97a","#6cbe6c","#9fd35f","#d3df74","#f9e89b"]},"legend":null}}},

  {"width":245,"height":119,"view":{"stroke":"#a0a0a0"},
   "layer":[
    {"data":{"name":"stn1"},"mark":{"type":"rule","color":"#7f7f7f","strokeWidth":2,"strokeDash":[8,5]},
     "encoding":{"x":{"field":"x","type":"quantitative","scale":{"domain":[-1,21],"nice":false,"zero":false},"axis":{"orient":"bottom","values":[0,5,10,15,20],"labels":false,"tickSize":-4,"title":null}}}},
    {"data":{"name":"mf1"},"mark":{"type":"point","shape":"circle","filled":true,"size":175,"opacity":1},
     "encoding":{"x":{"field":"x","type":"quantitative","scale":{"domain":[-1,21],"nice":false,"zero":false},"axis":{"orient":"top","values":[0,5,10,15,20],"labels":false,"tickSize":-4,"title":null}},
      "y":{"field":"depth","type":"quantitative","scale":{"domain":[-4,260],"reverse":true,"nice":false,"zero":false},"axis":{"orient":"left","values":[0,100,250],"tickSize":-4,"labelPadding":10,"title":null}},
      "color":{"field":"mf","type":"quantitative","scale":{"type":"quantize","domain":[0,1.2],"range":["#00ffff","#17e8ff","#2ed1ff","#46b9ff","#5da2ff","#748bff","#8b74ff","#a25dff","#b946ff","#d12eff","#e817ff","#ff00ff"],"nice":false},"legend":null}}},
    {"data":{"name":"iso1"},"mark":{"type":"line","clip":true,"interpolate":"monotone","color":"#333333","strokeWidth":0.9},
     "encoding":{"x":{"field":"x","type":"quantitative","scale":{"domain":[-1,21],"nice":false,"zero":false},"axis":null},
      "y":{"field":"depth","type":"quantitative","scale":{"domain":[-4,260],"reverse":true,"nice":false,"zero":false},"axis":{"orient":"right","values":[0,100,250],"labels":false,"tickSize":-4,"title":null}},
      "detail":{"field":"line"}}},
    {"data":{"name":"lab1"},"transform":[{"filter":"datum.label == '28.6'"}],"mark":{"type":"text","fontSize":14,"angle":3,"color":"#1a1a1a"},
     "encoding":{"x":{"field":"x","type":"quantitative","scale":{"domain":[-1,21],"nice":false,"zero":false},"axis":null},"y":{"field":"depth","type":"quantitative","scale":{"domain":[-4,260],"reverse":true,"nice":false,"zero":false},"axis":null},"text":{"field":"label"}}},
    {"data":{"name":"lab1"},"transform":[{"filter":"datum.label == '28.8'"}],"mark":{"type":"text","fontSize":14,"angle":25,"color":"#1a1a1a"},
     "encoding":{"x":{"field":"x","type":"quantitative","scale":{"domain":[-1,21],"nice":false,"zero":false},"axis":null},"y":{"field":"depth","type":"quantitative","scale":{"domain":[-4,260],"reverse":true,"nice":false,"zero":false},"axis":null},"text":{"field":"label"}}},
    {"data":{"name":"lab1"},"transform":[{"filter":"datum.label == '29'"}],"mark":{"type":"text","fontSize":14,"angle":20,"color":"#1a1a1a"},
     "encoding":{"x":{"field":"x","type":"quantitative","scale":{"domain":[-1,21],"nice":false,"zero":false},"axis":null},"y":{"field":"depth","type":"quantitative","scale":{"domain":[-4,260],"reverse":true,"nice":false,"zero":false},"axis":null},"text":{"field":"label"}}},
    {"data":{"name":"one"},"mark":{"type":"text","text":"c","fontSize":15,"fontWeight":"bold","color":"#111111","clip":false},
     "encoding":{"x":{"datum":-4.5,"type":"quantitative","scale":{"domain":[-1,21],"nice":false,"zero":false},"axis":null},"y":{"datum":0,"type":"quantitative","scale":{"domain":[-4,260],"reverse":true,"nice":false,"zero":false},"axis":null}}}
   ],
   "resolve":{"axis":{"x":"independent","y":"independent"}}},
  {"width":20,"height":119,"view":{"stroke":null},"data":{"name":"cbm"},"mark":"rect",
   "encoding":{"y":{"field":"lo","type":"quantitative","scale":{"domain":[0,1.2],"nice":false,"zero":false},"axis":{"orient":"right","values":[0,0.3,0.6,0.9,1.2],"format":"~g","ticks":false,"labelPadding":3,"labelFontSize":15,"title":null}},
    "y2":{"field":"hi"},
    "color":{"field":"mf","type":"quantitative","scale":{"type":"quantize","domain":[0,1.2],"range":["#00ffff","#17e8ff","#2ed1ff","#46b9ff","#5da2ff","#748bff","#8b74ff","#a25dff","#b946ff","#d12eff","#e817ff","#ff00ff"],"nice":false},"legend":null}}},
  {"width":52,"height":119,"view":{"stroke":null},"data":{"values":[]},"mark":"point"},
  {"width":244,"height":119,"view":{"stroke":"#a0a0a0"},
   "layer":[
    {"data":{"name":"stn2"},"mark":{"type":"rule","color":"#7f7f7f","strokeWidth":2,"strokeDash":[8,5]},
     "encoding":{"x":{"field":"x","type":"quantitative","scale":{"domain":[-0.9,30],"nice":false,"zero":false},"axis":{"orient":"bottom","values":[0,10,20,30],"labels":false,"tickSize":-4,"title":null}}}},
    {"data":{"name":"mf2"},"mark":{"type":"point","shape":"circle","filled":true,"size":175,"opacity":1},
     "encoding":{"x":{"field":"x","type":"quantitative","scale":{"domain":[-0.9,30],"nice":false,"zero":false},"axis":{"orient":"top","values":[0,10,20,30],"labels":false,"tickSize":-4,"title":null}},
      "y":{"field":"depth","type":"quantitative","scale":{"domain":[-4,260],"reverse":true,"nice":false,"zero":false},"axis":{"orient":"left","values":[0,100,250],"labels":false,"tickSize":-4,"title":null}},
      "color":{"field":"mf","type":"quantitative","scale":{"type":"quantize","domain":[0,1.2],"range":["#00ffff","#17e8ff","#2ed1ff","#46b9ff","#5da2ff","#748bff","#8b74ff","#a25dff","#b946ff","#d12eff","#e817ff","#ff00ff"],"nice":false},"legend":null}}},
    {"data":{"name":"iso2"},"mark":{"type":"line","clip":true,"interpolate":"monotone","color":"#333333","strokeWidth":0.9},
     "encoding":{"x":{"field":"x","type":"quantitative","scale":{"domain":[-0.9,30],"nice":false,"zero":false},"axis":null},
      "y":{"field":"depth","type":"quantitative","scale":{"domain":[-4,260],"reverse":true,"nice":false,"zero":false},"axis":{"orient":"right","values":[0,100,250],"labels":false,"tickSize":-4,"title":null}},
      "detail":{"field":"line"}}},
    {"data":{"name":"lab2"},"mark":{"type":"text","fontSize":14,"color":"#1a1a1a"},
     "encoding":{"x":{"field":"x","type":"quantitative","scale":{"domain":[-0.9,30],"nice":false,"zero":false},"axis":null},"y":{"field":"depth","type":"quantitative","scale":{"domain":[-4,260],"reverse":true,"nice":false,"zero":false},"axis":null},"text":{"field":"label"}}},
    {"data":{"name":"one"},"mark":{"type":"text","text":"d","fontSize":15,"fontWeight":"bold","color":"#111111","clip":false},
     "encoding":{"x":{"datum":-3,"type":"quantitative","scale":{"domain":[-0.9,30],"nice":false,"zero":false},"axis":null},"y":{"datum":0,"type":"quantitative","scale":{"domain":[-4,260],"reverse":true,"nice":false,"zero":false},"axis":null}}}
   ],
   "resolve":{"axis":{"x":"independent","y":"independent"}}},
  {"width":20,"height":119,"view":{"stroke":null},"data":{"name":"cbm"},"mark":"rect",
   "encoding":{"y":{"field":"lo","type":"quantitative","scale":{"domain":[0,1.2],"nice":false,"zero":false},"axis":{"orient":"right","values":[0,0.3,0.6,0.9,1.2],"format":"~g","ticks":false,"labelPadding":3,"labelFontSize":15,"title":"Microfibers (MF l\u207b\u00b9)","titleAngle":270,"titleBaseline":"top","titleFontSize":14.5,"titlePadding":13}},
    "y2":{"field":"hi"},
    "color":{"field":"mf","type":"quantitative","scale":{"type":"quantize","domain":[0,1.2],"range":["#00ffff","#17e8ff","#2ed1ff","#46b9ff","#5da2ff","#748bff","#8b74ff","#a25dff","#b946ff","#d12eff","#e817ff","#ff00ff"],"nice":false},"legend":null}}},

  {"width":245,"height":119,"view":{"fill":"#d7f4cf","stroke":"#a0a0a0"},
   "layer":[
    {"data":{"name":"chl1"},"mark":{"type":"area","clip":true,"interpolate":"monotone"},
     "encoding":{"x":{"field":"x","type":"quantitative","scale":{"domain":[-1,21],"nice":false,"zero":false},"axis":{"orient":"bottom","values":[0,5,10,15,20],"tickSize":-4,"labelPadding":12,"title":"Distance along transect (km)","titlePadding":3}},
      "y":{"field":"depth","type":"quantitative","stack":null,"scale":{"domain":[-4,260],"reverse":true,"nice":false,"zero":false},"axis":{"orient":"left","values":[0,100,250],"tickSize":-4,"labelPadding":10,"title":null}},
      "y2":{"field":"top"},
      "detail":{"field":"patch"},
      "color":{"field":"band","type":"nominal","scale":{"domain":["0.00","0.05","0.10","0.15","0.20","0.25","0.30","0.35","0.40","0.45"],"range":["#d7f4cf","#bde4b6","#96d091","#6dbd70","#3fa95a","#1d9149","#17783e","#1a6037","#1b472b","#152b1c"]},"legend":null}}},
    {"data":{"name":"stn1"},"mark":{"type":"rule","color":"#7f7f7f","strokeWidth":2,"strokeDash":[8,5]},
     "encoding":{"x":{"field":"x","type":"quantitative","scale":{"domain":[-1,21],"nice":false,"zero":false},"axis":{"orient":"top","values":[0,5,10,15,20],"labels":false,"tickSize":-4,"title":null}}}},
    {"data":{"name":"iso1"},"mark":{"type":"line","clip":true,"interpolate":"monotone","color":"#333333","strokeWidth":0.9},
     "encoding":{"x":{"field":"x","type":"quantitative","scale":{"domain":[-1,21],"nice":false,"zero":false},"axis":null},
      "y":{"field":"depth","type":"quantitative","scale":{"domain":[-4,260],"reverse":true,"nice":false,"zero":false},"axis":{"orient":"right","values":[0,100,250],"labels":false,"tickSize":-4,"title":null}},
      "detail":{"field":"line"}}},
    {"data":{"name":"lab1"},"transform":[{"filter":"datum.label == '28.6'"}],"mark":{"type":"text","fontSize":14,"angle":3,"color":"#1a1a1a"},
     "encoding":{"x":{"field":"x","type":"quantitative","scale":{"domain":[-1,21],"nice":false,"zero":false},"axis":null},"y":{"field":"depth","type":"quantitative","scale":{"domain":[-4,260],"reverse":true,"nice":false,"zero":false},"axis":null},"text":{"field":"label"}}},
    {"data":{"name":"lab1"},"transform":[{"filter":"datum.label == '28.8'"}],"mark":{"type":"text","fontSize":14,"angle":25,"color":"#1a1a1a"},
     "encoding":{"x":{"field":"x","type":"quantitative","scale":{"domain":[-1,21],"nice":false,"zero":false},"axis":null},"y":{"field":"depth","type":"quantitative","scale":{"domain":[-4,260],"reverse":true,"nice":false,"zero":false},"axis":null},"text":{"field":"label"}}},
    {"data":{"name":"lab1"},"transform":[{"filter":"datum.label == '29'"}],"mark":{"type":"text","fontSize":14,"angle":20,"color":"#1a1a1a"},
     "encoding":{"x":{"field":"x","type":"quantitative","scale":{"domain":[-1,21],"nice":false,"zero":false},"axis":null},"y":{"field":"depth","type":"quantitative","scale":{"domain":[-4,260],"reverse":true,"nice":false,"zero":false},"axis":null},"text":{"field":"label"}}},
    {"data":{"name":"one"},"mark":{"type":"text","text":"e","fontSize":15,"fontWeight":"bold","color":"#111111","clip":false},
     "encoding":{"x":{"datum":-4.5,"type":"quantitative","scale":{"domain":[-1,21],"nice":false,"zero":false},"axis":null},"y":{"datum":0,"type":"quantitative","scale":{"domain":[-4,260],"reverse":true,"nice":false,"zero":false},"axis":null}}}
   ],
   "resolve":{"axis":{"x":"independent","y":"independent"}}},
  {"width":20,"height":119,"view":{"stroke":null},"data":{"name":"cbc"},"mark":"rect",
   "encoding":{"y":{"field":"lo","type":"quantitative","scale":{"domain":[0,0.5],"nice":false,"zero":false},"axis":{"orient":"right","values":[0,0.1,0.2,0.3,0.4,0.5],"format":"~g","ticks":false,"labelPadding":3,"labelFontSize":15,"title":null}},
    "y2":{"field":"hi"},
    "color":{"field":"band","type":"nominal","scale":{"domain":["0.00","0.05","0.10","0.15","0.20","0.25","0.30","0.35","0.40","0.45"],"range":["#d7f4cf","#bde4b6","#96d091","#6dbd70","#3fa95a","#1d9149","#17783e","#1a6037","#1b472b","#152b1c"]},"legend":null}}},
  {"width":52,"height":119,"view":{"stroke":null},"data":{"values":[]},"mark":"point"},
  {"width":244,"height":119,"view":{"fill":"#d7f4cf","stroke":"#a0a0a0"},
   "layer":[
    {"data":{"name":"chl2"},"mark":{"type":"area","clip":true,"interpolate":"monotone"},
     "encoding":{"x":{"field":"x","type":"quantitative","scale":{"domain":[-0.9,30],"nice":false,"zero":false},"axis":{"orient":"bottom","values":[0,10,20,30],"tickSize":-4,"labelPadding":12,"title":"Distance along transect (km)","titlePadding":3}},
      "y":{"field":"depth","type":"quantitative","stack":null,"scale":{"domain":[-4,260],"reverse":true,"nice":false,"zero":false},"axis":{"orient":"left","values":[0,100,250],"labels":false,"tickSize":-4,"title":null}},
      "y2":{"field":"top"},
      "detail":{"field":"patch"},
      "color":{"field":"band","type":"nominal","scale":{"domain":["0.00","0.05","0.10","0.15","0.20","0.25","0.30","0.35","0.40","0.45"],"range":["#d7f4cf","#bde4b6","#96d091","#6dbd70","#3fa95a","#1d9149","#17783e","#1a6037","#1b472b","#152b1c"]},"legend":null}}},
    {"data":{"name":"stn2"},"mark":{"type":"rule","color":"#7f7f7f","strokeWidth":2,"strokeDash":[8,5]},
     "encoding":{"x":{"field":"x","type":"quantitative","scale":{"domain":[-0.9,30],"nice":false,"zero":false},"axis":{"orient":"top","values":[0,10,20,30],"labels":false,"tickSize":-4,"title":null}}}},
    {"data":{"name":"iso2"},"mark":{"type":"line","clip":true,"interpolate":"monotone","color":"#333333","strokeWidth":0.9},
     "encoding":{"x":{"field":"x","type":"quantitative","scale":{"domain":[-0.9,30],"nice":false,"zero":false},"axis":null},
      "y":{"field":"depth","type":"quantitative","scale":{"domain":[-4,260],"reverse":true,"nice":false,"zero":false},"axis":{"orient":"right","values":[0,100,250],"labels":false,"tickSize":-4,"title":null}},
      "detail":{"field":"line"}}},
    {"data":{"name":"lab2"},"mark":{"type":"text","fontSize":14,"color":"#1a1a1a"},
     "encoding":{"x":{"field":"x","type":"quantitative","scale":{"domain":[-0.9,30],"nice":false,"zero":false},"axis":null},"y":{"field":"depth","type":"quantitative","scale":{"domain":[-4,260],"reverse":true,"nice":false,"zero":false},"axis":null},"text":{"field":"label"}}},
    {"data":{"name":"one"},"mark":{"type":"text","text":"f","fontSize":15,"fontWeight":"bold","color":"#111111","clip":false},
     "encoding":{"x":{"datum":-3,"type":"quantitative","scale":{"domain":[-0.9,30],"nice":false,"zero":false},"axis":null},"y":{"datum":0,"type":"quantitative","scale":{"domain":[-4,260],"reverse":true,"nice":false,"zero":false},"axis":null}}}
   ],
   "resolve":{"axis":{"x":"independent","y":"independent"}}},
  {"width":20,"height":119,"view":{"stroke":null},"data":{"name":"cbc"},"mark":"rect",
   "encoding":{"y":{"field":"lo","type":"quantitative","scale":{"domain":[0,0.5],"nice":false,"zero":false},"axis":{"orient":"right","values":[0,0.1,0.2,0.3,0.4,0.5],"format":"~g","ticks":false,"labelPadding":3,"labelFontSize":15,"title":"Chl-a (mg m\u207b\u00b3)","titleAngle":270,"titleBaseline":"top","titleFontSize":14.5,"titlePadding":13}},
    "y2":{"field":"hi"},
    "color":{"field":"band","type":"nominal","scale":{"domain":["0.00","0.05","0.10","0.15","0.20","0.25","0.30","0.35","0.40","0.45"],"range":["#d7f4cf","#bde4b6","#96d091","#6dbd70","#3fa95a","#1d9149","#17783e","#1a6037","#1b472b","#152b1c"]},"legend":null}}}
]
}
